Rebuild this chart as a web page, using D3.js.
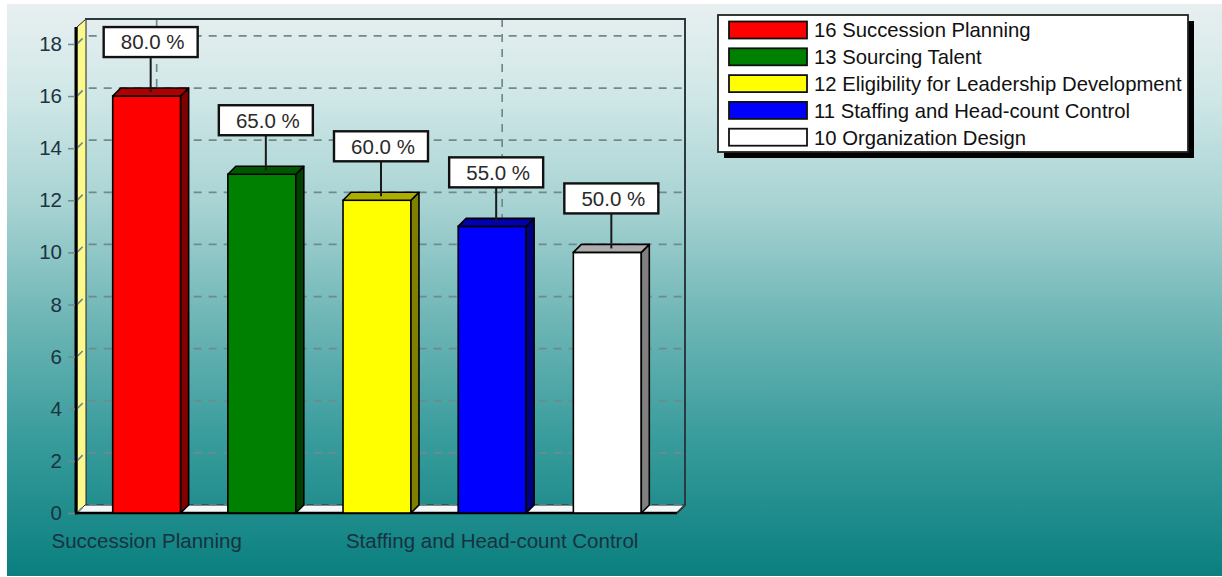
<!DOCTYPE html>
<html><head><meta charset="utf-8">
<script src="https://cdn.jsdelivr.net/npm/d3@7"></script>
<style>html,body{margin:0;padding:0;background:#fff;}svg{display:block;font-family:"Liberation Sans",Arial,sans-serif;}</style>
</head><body><svg id="c" width="1222" height="577"></svg>
<script>
const categories = ["Succession Planning","Sourcing Talent","Eligibility for Leadership Development","Staffing and Head-count Control","Organization Design"];
const values = [16,13,12,11,10];
const pctLabels = ["80.0 %","65.0 %","60.0 %","55.0 %","50.0 %"];
const barColors = ["#ff0000","#008000","#ffff00","#0000ff","#ffffff"];
const yTicks = [0,2,4,6,8,10,12,14,16,18];
const shownXLabels = ["Succession Planning","Staffing and Head-count Control"];

const svg = d3.select("#c");
const defs = svg.append("defs");
const g = defs.append("linearGradient").attr("id","bg").attr("x1",0).attr("y1",0).attr("x2",0).attr("y2",1);
[[0,"#e8eff0"],[0.15,"#d2e8e8"],[0.35,"#a8d3d3"],[0.55,"#6fb6b6"],[0.75,"#3b9d9d"],[1,"#0a7f7f"]]
  .forEach(([o,c])=>g.append("stop").attr("offset",o).attr("stop-color",c));
svg.append("rect").attr("x",7).attr("y",4).attr("width",1215).attr("height",572).attr("fill","url(#bg)");

const x0 = 77, x1 = 677, dx = 8, dy = -8;
const y = d3.scaleLinear().domain([0,18.65]).range([513,27]);
const x = d3.scaleBand().domain(categories).range([x0,x1]).paddingInner(0.41).paddingOuter(0.31);
const y0 = y(0), yTop = y(18.65);

// left wall
svg.append("polygon").attr("points",[[x0,y0],[x0,yTop],[x0+dx+1,yTop+dy],[x0+dx+1,y0+dy]].join(" "))
  .attr("fill","#fbf98e").attr("stroke","#222").attr("stroke-width",1);
// floor
svg.append("polygon").attr("points",[[x0,y0],[x1,y0],[x1+dx,y0+dy],[x0+dx,y0+dy]].join(" "))
  .attr("fill","#f4f8f8").attr("stroke","#222").attr("stroke-width",1);

const gridStyle = s=>s.attr("stroke","#6f8a8e").attr("stroke-width",1.7).attr("stroke-dasharray","8,7").attr("fill","none");
// horizontal grid
yTicks.forEach(v=>{
  const yy = y(v);
  gridStyle(svg.append("path").attr("d",`M${x0},${yy}L${x0+dx},${yy+dy}L${x1+dx},${yy+dy}`));
});
// vertical grid at labeled categories
shownXLabels.forEach(c=>{
  const cx = x(c)+x.bandwidth()/2+dx+2;
  gridStyle(svg.append("line").attr("x1",cx).attr("x2",cx).attr("y1",yTop+dy).attr("y2",y0+dy));
});
// back frame
svg.append("path").attr("d",`M${x0+dx},${yTop+dy}L${x1+dx},${yTop+dy}L${x1+dx},${y0+dy}L${x1},${y0}`)
  .attr("fill","none").attr("stroke","#2a3a3e").attr("stroke-width",2);
// axis lines
svg.append("line").attr("x1",x0-1).attr("x2",x0-1).attr("y1",yTop).attr("y2",y0+1.5).attr("stroke","#000").attr("stroke-width",3);
svg.append("line").attr("x1",x0).attr("x2",x1).attr("y1",y0).attr("y2",y0).attr("stroke","#000").attr("stroke-width",2.5);

// y axis
const yAxis = d3.axisLeft(y).tickValues(yTicks).tickSize(7).tickPadding(6);
const ya = svg.append("g").attr("transform",`translate(${x0-2},0)`).call(yAxis);
ya.select(".domain").remove();
ya.selectAll(".tick line").attr("stroke","#6f8a8e").attr("stroke-width",1.5);
ya.selectAll("text").attr("fill","#1b3340").attr("font-size",20.5).attr("font-family","Liberation Sans, Arial, sans-serif");

// bars
const data = categories.map((c,i)=>({c,v:values[i],col:barColors[i],lab:pctLabels[i]}));
const shade = (c,k)=>{const r=d3.rgb(c);return d3.rgb(r.r*k,r.g*k,r.b*k).formatHex();};
const bw = x.bandwidth();
const bars = svg.append("g").selectAll("g").data(data).join("g");
bars.append("rect").attr("x",d=>x(d.c)).attr("y",d=>y(d.v)).attr("width",bw).attr("height",d=>y0-y(d.v))
  .attr("fill",d=>d.col).attr("stroke","#000").attr("stroke-width",1.6);
bars.append("polygon").attr("points",d=>{const xr=x(d.c)+bw,yt=y(d.v);return [[xr,yt],[xr+dx,yt+dy],[xr+dx,y0+dy],[xr,y0]].join(" ");})
  .attr("fill",d=>shade(d.col,0.5)).attr("stroke","#000").attr("stroke-width",1.6).attr("stroke-linejoin","round");
bars.append("polygon").attr("points",d=>{const xl=x(d.c),yt=y(d.v);return [[xl,yt],[xl+dx,yt+dy],[xl+bw+dx,yt+dy],[xl+bw,yt]].join(" ");})
  .attr("fill",d=>shade(d.col,0.68)).attr("stroke","#000").attr("stroke-width",1.6).attr("stroke-linejoin","round");

// value labels
const lw = 94, lh = 30;
const lab = svg.append("g").selectAll("g").data(data).join("g");
lab.append("line").attr("x1",d=>x(d.c)+bw/2+dx/2).attr("x2",d=>x(d.c)+bw/2+dx/2)
  .attr("y1",d=>y(d.v)-39).attr("y2",d=>y(d.v)+dy/2).attr("stroke","#1a1a1a").attr("stroke-width",2);
lab.append("rect").attr("x",d=>x(d.c)+bw/2+dx/2-lw/2).attr("y",d=>y(d.v)-39-lh).attr("width",lw).attr("height",lh)
  .attr("fill","#fff").attr("stroke","#111").attr("stroke-width",2.4);
lab.append("text").attr("x",d=>x(d.c)+bw/2+dx/2+2).attr("y",d=>y(d.v)-39-lh/2).attr("dy","0.36em")
  .attr("text-anchor","middle").attr("font-size",20.5).attr("fill","#2a2a2a").text(d=>d.lab);

// x labels
svg.append("g").selectAll("text").data(shownXLabels).join("text")
  .attr("x",d=>x(d)+bw/2).attr("y",541).attr("dy","0.36em").attr("text-anchor","middle")
  .attr("font-size",20.5).attr("fill","#16323f").text(d=>d);

// legend
const lg = svg.append("g").attr("transform","translate(718,15)");
lg.append("rect").attr("x",6).attr("y",6).attr("width",470).attr("height",137).attr("fill","#000");
lg.append("rect").attr("width",470).attr("height",137).attr("fill","#fff").attr("stroke","#222").attr("stroke-width",1.8);
const li = lg.selectAll("g.li").data(data).join("g").attr("class","li").attr("transform",(d,i)=>`translate(0,${15+i*26.8})`);
li.append("rect").attr("x",11).attr("y",-8.5).attr("width",78).attr("height",17).attr("fill",d=>d.col).attr("stroke","#111").attr("stroke-width",1.8);
li.append("text").attr("x",96).attr("dy","0.36em").attr("font-size",20.3).attr("fill","#111").text(d=>`${d.v} ${d.c}`);
</script></body></html>
